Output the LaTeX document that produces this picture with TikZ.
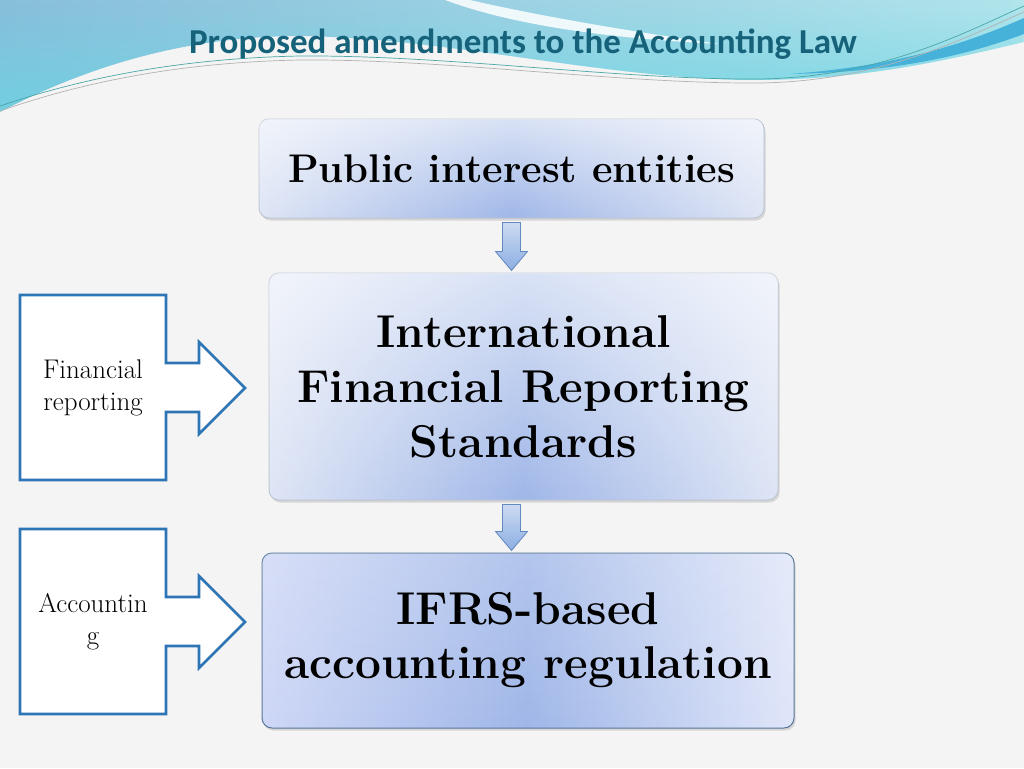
\documentclass[tikz,border=0pt]{standalone}
\usepackage{fontspec}
\newfontfamily\titlefont{Carlito}
\usetikzlibrary{calc,shadows,fadings}
\definecolor{bg}{RGB}{244,244,244}
\definecolor{titleblue}{RGB}{22,98,122}
\definecolor{waveL}{RGB}{136,190,218}
\definecolor{waveR}{RGB}{178,229,236}
\definecolor{waveC}{RGB}{104,214,228}
\definecolor{waveband}{RGB}{70,178,218}
\definecolor{boxline}{RGB}{190,197,210}
\definecolor{boxedge}{RGB}{222,229,245}
\definecolor{boxmid}{RGB}{160,183,232}
\definecolor{regline}{RGB}{88,118,155}
\definecolor{regleft}{RGB}{206,215,246}
\definecolor{regright}{RGB}{224,230,249}
\definecolor{arrowtop}{RGB}{204,218,242}
\definecolor{arrowbot}{RGB}{140,174,226}
\definecolor{arrowline}{RGB}{100,136,192}
\definecolor{calloutblue}{RGB}{46,117,182}
\tikzset{
    box/.style={draw=boxline, line width=1pt, rounded corners=10pt, inner sep=0pt,
        align=center, left color=boxedge, right color=boxedge, middle color=boxmid,
        drop shadow={shadow xshift=1.5pt, shadow yshift=-2.5pt, opacity=0.25},
        postaction={fill=white, path fading=south, fill opacity=#1}},
    box/.default=0.6,
    boxtext/.style 2 args={font=\fontsize{#1}{#2}\selectfont\bfseries},
    downarrow/.style={draw=arrowline, line width=0.8pt, top color=arrowtop, bottom color=arrowbot},
    callout/.style={draw=calloutblue, line width=2.6pt, fill=white, line join=miter},
    calltext/.style={align=center, font=\fontsize{27}{32}\selectfont},
    waveline/.style={line width=0.7pt, draw=#1}
}
\begin{document}
\begin{tikzpicture}[x=1pt, y=-1pt]
        \useasboundingbox (0,0) rectangle (1024,768);
        \fill[bg] (0,0) rectangle (1024,768);
        % header waves
        \shade[left color=waveL, right color=waveR] (0,0) -- (1024,0) -- (1024,42)
            .. controls (940,62) and (860,80) .. (750,80)
            .. controls (600,78) and (450,38) .. (300,36)
            .. controls (180,36) and (80,70) .. (0,112) -- cycle;
        \fill[waveC, path fading=north, fill opacity=0.7] (0,0) -- (1024,0) -- (1024,42)
            .. controls (940,62) and (860,80) .. (750,80)
            .. controls (600,78) and (450,38) .. (300,36)
            .. controls (180,36) and (80,70) .. (0,112) -- cycle;
        \fill[white, opacity=0.85] (470,0) .. controls (530,14) and (620,30) .. (720,44)
            .. controls (600,38) and (510,24) .. (445,0) -- cycle;
        \fill[waveband] (790,74) .. controls (900,66) and (970,42) .. (1024,18)
            -- (1024,34) .. controls (970,54) and (900,72) .. (790,74) -- cycle;
        \draw[waveline=teal!70] (0,106) .. controls (100,72) and (200,58) .. (300,56)
            .. controls (450,55) and (620,80) .. (760,79) .. controls (880,77) and (960,35) .. (1024,6);
        \draw[waveline=gray!60] (0,111) .. controls (100,76) and (200,62) .. (300,60)
            .. controls (450,59) and (620,84) .. (760,83) .. controls (880,81) and (960,40) .. (1024,12);
        % nodes
        \node[font=\titlefont\bfseries\fontsize{35}{40}\selectfont, text=titleblue] (title) at (523,44) {Proposed amendments to the Accounting Law};
        \node[box, minimum width=505pt, minimum height=99pt, boxtext={40}{48}] (pub) at (511.5,168.5) {Public interest entities};
        \node[box, minimum width=509pt, minimum height=227pt, boxtext={46}{55}] (ifrs) at (523.5,386.5) {International\\Financial Reporting\\Standards};
        \node[box=0.2, draw=regline, left color=regleft, right color=regright, middle color=boxmid,
            minimum width=532pt, minimum height=175pt, boxtext={46}{54}] (reg) at (528,640.5) {IFRS-based\\accounting regulation};
        % callouts
        \foreach \n/\y/\t in {fin/295/{Financial\\reporting}, acc/529/{Accountin\\g}} {
            \draw[callout] (20,\y) -- ++(146,0) -- ++(0,68) -- ++(33,0) -- ++(0,-21) -- ++(46,46)
                -- ++(-46,46) -- ++(0,-22) -- ++(-33,0) -- ++(0,68) -- ++(-146,0) -- cycle;
            \node[calltext] (\n) at (93,\y+93) {\t};
        }
        % arrows
        \foreach \a/\b in {pub/ifrs, ifrs/reg} {
            \draw[downarrow] ($(pub.south |- \a.south)+(-9,4)$) -- ($(pub.south |- \a.south)+(9,4)$)
                -- ($(pub.south |- \b.north)+(9,-21)$) -- ($(pub.south |- \b.north)+(16,-21)$)
                -- ($(pub.south |- \b.north)+(0,-2)$) -- ($(pub.south |- \b.north)+(-16,-21)$)
                -- ($(pub.south |- \b.north)+(-9,-21)$) -- cycle;
        }
\end{tikzpicture}
\end{document}
